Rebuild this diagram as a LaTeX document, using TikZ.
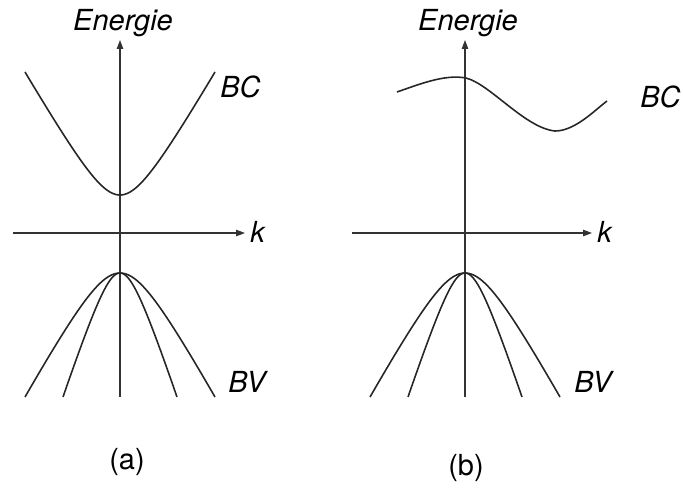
\documentclass[tikz,border=0pt]{standalone}
\usepackage{fontspec}
\setmainfont{TeX Gyre Heros}
\usetikzlibrary{arrows.meta}

\begin{document}
\begin{tikzpicture}[x=0.02cm,y=-0.02cm,
  axe/.style={-{Triangle[length=5pt,width=3.6pt]},line width=0.6pt,color=black!80},
  bande/.style={line width=0.9pt,color=black!85},
  lbl/.style={font=\fontsize{16.5}{19}\selectfont\itshape,inner sep=0pt,anchor=base west},
  legende/.style={font=\fontsize{16.5}{19}\selectfont,inner sep=0pt}
]
\useasboundingbox (0,0) rectangle (683,488);

% Axes (a)
\coordinate (a0) at (120,397);
\coordinate (aE) at (120,40);
\coordinate (ak0) at (13,233);
\coordinate (ak) at (245,233);
\draw[axe] (a0) -- (aE);
\draw[axe] (ak0) -- (ak);

% Axes (b)
\coordinate (b0) at (465,397);
\coordinate (bE) at (465,40);
\coordinate (bk0) at (352,233);
\coordinate (bk) at (592,233);
\draw[axe] (b0) -- (bE);
\draw[axe] (bk0) -- (bk);

% Bande de conduction (a)
\draw[bande] plot[domain=-95:95,samples=80] ({120+\x},{245-10*sqrt(25+0.03039*\x*\x)});

% Bande de conduction (b)
\draw[bande] (397,92) .. controls (420,84) and (445,74) .. (466,78)
  .. controls (490,84) and (525,128) .. (555,131)
  .. controls (575,131) and (595,110) .. (607,101);

% Bandes de valence
\foreach \ox in {120,465}{
  \draw[bande] plot[domain=-95:95,samples=80] ({\ox+\x},{213+10*sqrt(36+0.03352*\x*\x)});
  \draw[bande] plot[domain=-57:57,samples=80] ({\ox+\x},{213+10*sqrt(36+0.0931*\x*\x)});
}

% Etiquettes
\node[lbl,anchor=base] (aEn) at (123,30) {Energie};
\node[lbl,anchor=base] (bEn) at (468,30) {Energie};
\node[lbl] (akl) at (250,242) {k};
\node[lbl] (bkl) at (597,242) {k};
\node[lbl] (aBC) at (220,97) {BC};
\node[lbl] (bBC) at (640,107) {BC};
\node[lbl] (aBV) at (228,392) {BV};
\node[lbl] (bBV) at (574,392) {BV};
\node[legende] (la) at (127,462) {(a)};
\node[legende] (lb) at (466,468) {(b)};

\end{tikzpicture}
\end{document}
